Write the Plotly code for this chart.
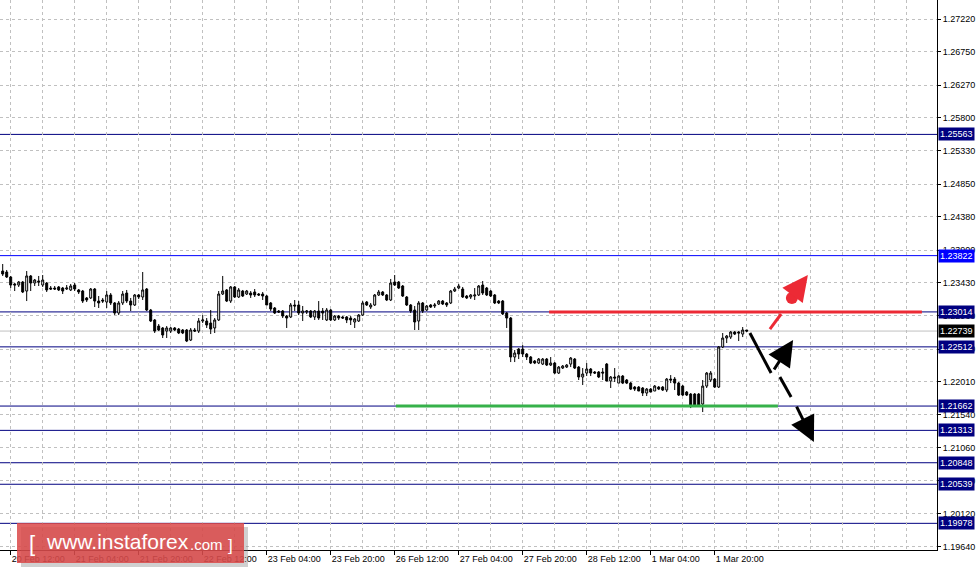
import plotly.graph_objects as go

# ---------------- data ----------------
opens = [1.23601,1.23587,1.23515,1.23415,1.23400,1.23443,1.23314,1.23530,1.23429,1.23458,
 1.23400,1.23429,1.23357,1.23357,1.23372,1.23357,1.23343,1.23329,1.23400,1.23329,
 1.23314,1.23214,1.23214,1.23343,1.23170,1.23185,1.23156,1.23257,1.23142,1.22998,
 1.23142,1.23285,1.23170,1.23113,1.23257,1.23228,1.23343,1.23041,1.22898,1.22811,
 1.22783,1.22739,1.22739,1.22783,1.22768,1.22754,1.22754,1.22610,1.22754,1.22739,
 1.22883,1.22883,1.22854,1.22783,1.22898,1.23271,1.23329,1.23170,1.23372,1.23228,
 1.23314,1.23271,1.23285,1.23300,1.23271,1.23271,1.23242,1.23142,1.23070,1.23027,
 1.23027,1.22955,1.22941,1.23113,1.23113,1.22998,1.23012,1.23027,1.22941,1.23027,
 1.23027,1.22898,1.23041,1.22898,1.22955,1.22941,1.22941,1.22926,1.22869,1.22883,
 1.22969,1.23156,1.23084,1.23113,1.23257,1.23300,1.23257,1.23185,1.23443,1.23443,
 1.23386,1.23228,1.23113,1.23041,1.22883,1.23142,1.23041,1.23113,1.23099,1.23127,
 1.23170,1.23142,1.23142,1.23314,1.23357,1.23343,1.23242,1.23228,1.23242,1.23257,
 1.23400,1.23357,1.23314,1.23257,1.23170,1.23170,1.22998,1.22926,1.22366,1.22481,
 1.22481,1.22409,1.22366,1.22309,1.22280,1.22265,1.22337,1.22251,1.22280,1.22136,
 1.22208,1.22222,1.22265,1.22337,1.22222,1.22079,1.22136,1.22194,1.22151,1.22151,
 1.22151,1.22265,1.22021,1.22079,1.21992,1.22093,1.22036,1.21992,1.21935,1.21935,
 1.21921,1.21849,1.21906,1.21878,1.21935,1.21935,1.21892,1.22050,1.22050,1.21992,
 1.21949,1.21863,1.21834,1.21834,1.21834,1.21691,1.21949,1.22036,1.22050,1.21935,
 1.22510,1.22639,1.22653,1.22725,1.22725,1.22696,1.22754]
highs = [1.23702,1.23616,1.23530,1.23429,1.23458,1.23458,1.23601,1.23544,1.23487,1.23530,
 1.23544,1.23443,1.23386,1.23386,1.23386,1.23372,1.23400,1.23415,1.23429,1.23343,
 1.23329,1.23228,1.23357,1.23357,1.23242,1.23214,1.23314,1.23285,1.23156,1.23170,
 1.23314,1.23329,1.23214,1.23271,1.23271,1.23587,1.23357,1.23056,1.22912,1.22840,
 1.22797,1.22811,1.22797,1.22797,1.22783,1.22768,1.22768,1.22783,1.22783,1.22926,
 1.22969,1.22926,1.23041,1.22926,1.23314,1.23530,1.23343,1.23386,1.23386,1.23357,
 1.23329,1.23329,1.23314,1.23343,1.23285,1.23300,1.23257,1.23156,1.23084,1.23041,
 1.23041,1.22969,1.23142,1.23185,1.23170,1.23099,1.23041,1.23041,1.23041,1.23170,
 1.23070,1.23070,1.23056,1.22969,1.22969,1.22955,1.22955,1.22955,1.22926,1.22984,
 1.23170,1.23170,1.23142,1.23271,1.23329,1.23314,1.23271,1.23487,1.23544,1.23458,
 1.23400,1.23242,1.23127,1.23099,1.23170,1.23156,1.23113,1.23127,1.23142,1.23185,
 1.23185,1.23156,1.23329,1.23372,1.23415,1.23372,1.23257,1.23271,1.23357,1.23400,
 1.23458,1.23372,1.23329,1.23271,1.23185,1.23185,1.23012,1.22941,1.22467,1.22495,
 1.22538,1.22423,1.22380,1.22323,1.22352,1.22352,1.22352,1.22366,1.22294,1.22237,
 1.22251,1.22265,1.22366,1.22352,1.22237,1.22208,1.22280,1.22208,1.22165,1.22165,
 1.22208,1.22280,1.22093,1.22208,1.22107,1.22107,1.22050,1.22007,1.21949,1.21949,
 1.21935,1.21921,1.21921,1.21964,1.21949,1.21949,1.22064,1.22107,1.22079,1.22007,
 1.21964,1.21878,1.21849,1.21849,1.21849,1.22036,1.22151,1.22165,1.22064,1.22524,
 1.22711,1.22682,1.22739,1.22739,1.22739,1.22797,1.22754]
lows = [1.23530,1.23501,1.23357,1.23314,1.23372,1.23285,1.23170,1.23314,1.23386,1.23386,
 1.23372,1.23300,1.23329,1.23329,1.23314,1.23271,1.23329,1.23314,1.23314,1.23271,
 1.23142,1.23156,1.23199,1.23084,1.23070,1.23142,1.23070,1.23113,1.22969,1.22969,
 1.23113,1.23142,1.23027,1.23099,1.23199,1.23185,1.23027,1.22869,1.22711,1.22739,
 1.22639,1.22639,1.22711,1.22739,1.22696,1.22696,1.22581,1.22596,1.22725,1.22711,
 1.22854,1.22783,1.22696,1.22711,1.22883,1.23257,1.23156,1.23142,1.23214,1.23214,
 1.23228,1.23257,1.23214,1.23228,1.23242,1.23185,1.23113,1.23027,1.22984,1.22998,
 1.22926,1.22783,1.22926,1.23027,1.22969,1.22883,1.22984,1.22926,1.22898,1.22898,
 1.22898,1.22883,1.22883,1.22883,1.22898,1.22912,1.22854,1.22826,1.22783,1.22869,
 1.22955,1.23099,1.23056,1.23099,1.23242,1.23242,1.23170,1.23170,1.23386,1.23343,
 1.23228,1.23099,1.22998,1.22754,1.22754,1.22998,1.23027,1.23070,1.23070,1.23113,
 1.23113,1.23084,1.23127,1.23300,1.23343,1.23214,1.23199,1.23199,1.23185,1.23242,
 1.23257,1.23242,1.23228,1.23127,1.23127,1.22969,1.22783,1.22294,1.22294,1.22337,
 1.22366,1.22323,1.22265,1.22265,1.22265,1.22251,1.22237,1.22237,1.22122,1.22122,
 1.22194,1.22208,1.22222,1.22194,1.22036,1.21964,1.22093,1.22093,1.22122,1.22064,
 1.22036,1.22021,1.21921,1.22007,1.21992,1.21978,1.21978,1.21892,1.21878,1.21878,
 1.21806,1.21806,1.21863,1.21878,1.21892,1.21878,1.21863,1.21992,1.21892,1.21806,
 1.21806,1.21806,1.21633,1.21662,1.21662,1.21576,1.21921,1.22007,1.21921,1.21921,
 1.22495,1.22567,1.22625,1.22682,1.22596,1.22653,1.22725]
closes = [1.23558,1.23515,1.23400,1.23400,1.23443,1.23300,1.23530,1.23429,1.23472,1.23443,
 1.23472,1.23329,1.23343,1.23343,1.23329,1.23314,1.23357,1.23386,1.23343,1.23300,
 1.23170,1.23185,1.23343,1.23170,1.23142,1.23170,1.23257,1.23142,1.22998,1.23142,
 1.23271,1.23170,1.23113,1.23257,1.23228,1.23329,1.23041,1.22883,1.22739,1.22754,
 1.22682,1.22783,1.22783,1.22754,1.22711,1.22711,1.22596,1.22754,1.22739,1.22883,
 1.22898,1.22826,1.22768,1.22898,1.23271,1.23314,1.23170,1.23372,1.23228,1.23329,
 1.23242,1.23314,1.23257,1.23257,1.23257,1.23242,1.23113,1.23056,1.22998,1.23012,
 1.22955,1.22926,1.23113,1.23099,1.22998,1.23027,1.23027,1.22941,1.23027,1.22926,
 1.22998,1.23041,1.22898,1.22955,1.22926,1.22926,1.22898,1.22898,1.22912,1.22969,
 1.23142,1.23113,1.23113,1.23257,1.23300,1.23257,1.23185,1.23429,1.23400,1.23357,
 1.23242,1.23113,1.23027,1.22869,1.23142,1.23027,1.23099,1.23084,1.23113,1.23170,
 1.23127,1.23113,1.23314,1.23343,1.23386,1.23228,1.23214,1.23257,1.23257,1.23386,
 1.23285,1.23257,1.23242,1.23142,1.23142,1.22984,1.22926,1.22366,1.22423,1.22409,
 1.22409,1.22366,1.22280,1.22280,1.22337,1.22337,1.22251,1.22280,1.22136,1.22222,
 1.22237,1.22251,1.22352,1.22208,1.22079,1.22122,1.22194,1.22136,1.22136,1.22079,
 1.22136,1.22021,1.22079,1.22064,1.22093,1.21992,1.21992,1.21906,1.21906,1.21878,
 1.21849,1.21906,1.21863,1.21949,1.21906,1.21892,1.22050,1.22036,1.21992,1.21820,
 1.21820,1.21820,1.21676,1.21676,1.21676,1.21949,1.22136,1.22136,1.21935,1.22510,
 1.22639,1.22668,1.22725,1.22696,1.22711,1.22754,1.22739]
bar_index = list(range(len(closes)))

time_labels = ["20 Feb 12:00", "21 Feb 04:00", "21 Feb 20:00", "22 Feb 12:00",
               "23 Feb 04:00", "23 Feb 20:00", "26 Feb 12:00", "27 Feb 04:00",
               "27 Feb 20:00", "28 Feb 12:00", "1 Mar 04:00", "1 Mar 20:00"]
time_label_bars = [2, 18, 34, 50, 66, 82, 98, 114, 130, 146, 162, 178]

price_ticks = [1.27220, 1.26750, 1.26270, 1.25800, 1.25330, 1.24850, 1.24380, 1.23900,
               1.23430, 1.22960, 1.22480, 1.22010, 1.21540, 1.21060, 1.20590, 1.20120,
               1.19640]

levels = [1.25563, 1.23822, 1.23014, 1.22512, 1.21662, 1.21313, 1.20848, 1.20539, 1.19978]
level_colors = ["#000080", "#0000FF", "#000080", "#000080", "#000080", "#000080",
                "#000080", "#000080", "#000080"]
current_price = 1.22739

resistance = dict(price=1.23014, start_bar=136.6, end_bar=229.8)
support = dict(price=1.21662, start_bar=98.3, end_bar=193.8)

# forecast drawing: (bar, price) pairs
red_dash = [(191.8, 1.22768), (194.6, 1.22984)]
red_dot = (197.3, 1.23214)
red_arrow = [(198.1, 1.23300), (201.3, 1.23544)]
black_down = [(186.8, 1.22711), (192.1, 1.22136)]
black_up_arrow = [(192.6, 1.22165), (197.6, 1.22610)]
black_dash = [(194.3, 1.22079), (197.1, 1.21791)]
black_down_arrow = [(198.3, 1.21676), (202.8, 1.21146)]

Y_RANGE = [1.19595, 1.27493]
X_RANGE = [-0.675, 233.575]
FONT = "Liberation Sans, Arial, sans-serif"
RED = "#EC2A35"
GREEN = "#36B14A"
PLOT_W, PLOT_H = 937, 550

fig = go.Figure()
fig.add_trace(go.Candlestick(
    x=bar_index, open=opens, high=highs, low=lows, close=closes,
    increasing=dict(line=dict(color="black", width=1), fillcolor="white"),
    decreasing=dict(line=dict(color="black", width=1), fillcolor="black"),
    whiskerwidth=0, hoverinfo="skip", showlegend=False))

shapes = []
for lv, col in zip(levels, level_colors):
    shapes.append(dict(type="line", xref="paper", x0=0, x1=1, yref="y", y0=lv, y1=lv,
                       line=dict(color=col, width=1), layer="below"))
shapes.append(dict(type="line", xref="paper", x0=0, x1=1, yref="y", y0=current_price,
                   y1=current_price, line=dict(color="#C0C0C0", width=1), layer="below"))
shapes.append(dict(type="line", x0=resistance["start_bar"], x1=resistance["end_bar"],
                   y0=resistance["price"], y1=resistance["price"],
                   line=dict(color=RED, width=3)))
shapes.append(dict(type="line", x0=support["start_bar"], x1=support["end_bar"],
                   y0=support["price"], y1=support["price"],
                   line=dict(color=GREEN, width=3)))
for seg, col in [(red_dash, RED), (black_down, "black"), (black_dash, "black")]:
    shapes.append(dict(type="line", x0=seg[0][0], y0=seg[0][1], x1=seg[1][0], y1=seg[1][1],
                       line=dict(color=col, width=3)))


# watermark box (pixel positions converted to paper fractions)
def px(x):
    return x / PLOT_W


def py(y):
    return (PLOT_H - y) / PLOT_H


shapes.append(dict(type="rect", xref="paper", yref="paper", x0=px(21), x1=px(248),
                   y0=py(567), y1=py(527),
                   fillcolor="rgba(120,120,120,0.35)", line=dict(width=0), layer="above"))
shapes.append(dict(type="rect", xref="paper", yref="paper", x0=px(17), x1=px(244),
                   y0=py(563), y1=py(523),
                   fillcolor="rgba(218,72,72,0.85)", line=dict(width=0), layer="above"))

annotations = []
for lv, col in zip(levels, level_colors):
    annotations.append(dict(xref="paper", x=1, yref="y", y=lv, xanchor="left", xshift=1,
                            text=f"{lv:.5f}", showarrow=False, bgcolor=col, borderpad=1,
                            font=dict(family=FONT, size=9, color="white")))
annotations.append(dict(xref="paper", x=1, yref="y", y=current_price, xanchor="left", xshift=1,
                        text=f"{current_price:.5f}", showarrow=False, bgcolor="black",
                        borderpad=1, font=dict(family=FONT, size=9, color="white")))
for arr, col in [(red_arrow, RED), (black_up_arrow, "black"), (black_down_arrow, "black")]:
    annotations.append(dict(x=arr[1][0], y=arr[1][1], ax=arr[0][0], ay=arr[0][1],
                            xref="x", yref="y", axref="x", ayref="y", text="",
                            showarrow=True, arrowhead=2, arrowsize=1.7, arrowwidth=3,
                            arrowcolor=col, standoff=0))
# watermark text
annotations.append(dict(xref="paper", yref="paper", x=px(27), y=py(543), xanchor="left",
                        yanchor="middle", text="[", showarrow=False,
                        font=dict(family=FONT, size=22, color="white")))
annotations.append(dict(xref="paper", yref="paper", x=px(44), y=py(541), xanchor="left",
                        yanchor="middle", text="www.instaforex", showarrow=False,
                        font=dict(family=FONT, size=21, color="white")))
annotations.append(dict(xref="paper", yref="paper", x=px(188), y=py(544), xanchor="left",
                        yanchor="middle", text=".com", showarrow=False,
                        font=dict(family=FONT, size=15, color="white")))
annotations.append(dict(xref="paper", yref="paper", x=px(226), y=py(545), xanchor="left",
                        yanchor="middle", text="]", showarrow=False,
                        font=dict(family=FONT, size=17, color="white")))

fig.add_trace(go.Scatter(x=[red_dot[0]], y=[red_dot[1]], mode="markers",
                         marker=dict(color=RED, size=12), hoverinfo="skip", showlegend=False))

fig.update_layout(
    width=980, height=573, margin=dict(l=0, r=43, t=0, b=23, pad=0),
    paper_bgcolor="white", plot_bgcolor="white", showlegend=False,
    shapes=shapes, annotations=annotations,
    font=dict(family=FONT, size=9, color="black"),
    xaxis=dict(range=X_RANGE, tickmode="array", tickvals=time_label_bars, ticktext=time_labels,
               ticks="outside", ticklen=4, tickcolor="black", ticklabelposition="outside right",
               showline=True, linecolor="black", linewidth=1, automargin=False,
               showgrid=True, gridcolor="#C0C0C0", griddash="3px,3px", gridwidth=1,
               minor=dict(tick0=2, dtick=8, showgrid=True, gridcolor="#C0C0C0",
                          griddash="3px,3px", ticks=""),
               zeroline=False, rangeslider=dict(visible=False), fixedrange=True,
               tickfont=dict(family=FONT, size=9)),
    yaxis=dict(range=Y_RANGE, side="right", tickmode="array", tickvals=price_ticks,
               ticktext=[f"{v:.5f}" for v in price_ticks],
               ticks="outside", ticklen=3, tickcolor="black", automargin=False,
               showline=True, linecolor="black", linewidth=1,
               showgrid=True, gridcolor="#C0C0C0", griddash="3px,3px", gridwidth=1,
               zeroline=False, fixedrange=True, tickfont=dict(family=FONT, size=9)),
)

fig.write_html("out.html", config={"displayModeBar": False},
               post_script="document.body.style.margin='0px';document.body.style.overflow='hidden';")
